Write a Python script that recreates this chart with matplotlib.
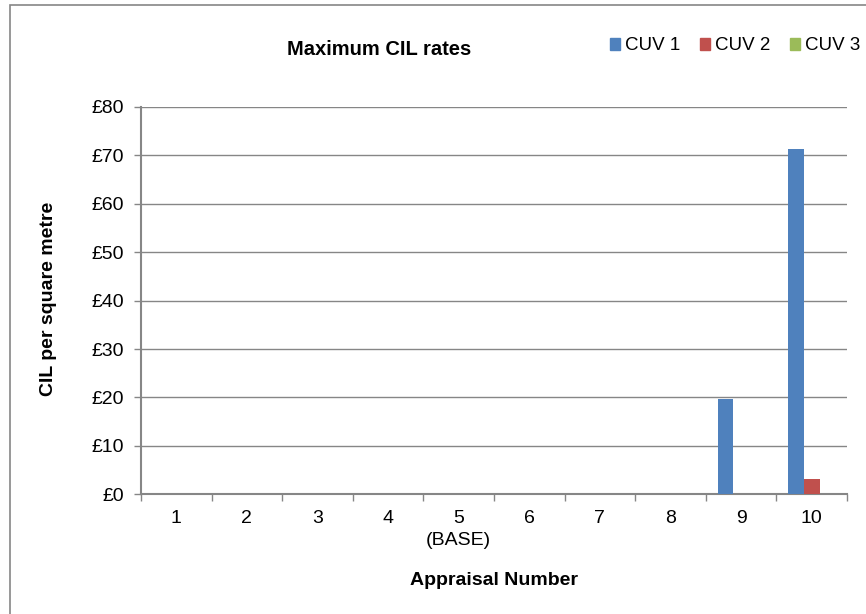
import matplotlib.pyplot as plt
import matplotlib.patches as mpatches
import numpy as np

plt.rcParams['font.family'] = ['Liberation Sans', 'DejaVu Sans']

appraisals = ["1", "2", "3", "4", "5\n(BASE)", "6", "7", "8", "9", "10"]
series = ["CUV 1", "CUV 2", "CUV 3"]
cuv1 = [0, 0, 0, 0, 0, 0, 0, 0, 19.6, 71.3]
cuv2 = [0, 0, 0, 0, 0, 0, 0, 0, 0, 3.2]
cuv3 = [0, 0, 0, 0, 0, 0, 0, 0, 0, 0]
colors = ["#4F81BD", "#C0504D", "#9BBB59"]
yticks = [0, 10, 20, 30, 40, 50, 60, 70, 80]

grey = "#868686"

fig = plt.figure(figsize=(8.66, 6.14), dpi=100)
ax = fig.add_axes([141 / 866, 1 - 494.3 / 614, 706 / 866, 387.3 / 614])

x = np.arange(len(appraisals))
w = 1 / 4.5
for i, (vals, c) in enumerate(zip([cuv1, cuv2, cuv3], colors)):
    ax.bar(x + (i - 1) * w, vals, width=w, color=c, zorder=3)

ax.set_xlim(-0.5, len(appraisals) - 0.5)
ax.set_ylim(0, 80)
ax.set_yticks(yticks)
ax.set_yticklabels(["£%d" % v for v in yticks])
ax.yaxis.grid(True, color=grey, linewidth=1)
ax.set_axisbelow(True)

ax.set_xticks(np.arange(-0.5, len(appraisals)), minor=False)
ax.set_xticklabels([])
ax.set_xticks(x, minor=True)
ax.set_xticklabels(appraisals, minor=True, linespacing=1.4)
ax.tick_params(axis="x", which="minor", length=0, pad=11.5, labelsize=14)
ax.tick_params(axis="x", which="major", length=5, color=grey, width=1)
ax.tick_params(axis="y", length=5, color=grey, width=1, pad=7.5, labelsize=14)

for s in ["top", "right"]:
    ax.spines[s].set_visible(False)
for s in ["left", "bottom"]:
    ax.spines[s].set_color(grey)
    ax.spines[s].set_linewidth(1.5)

fig.text(494 / 866, 1 - 585 / 614, "Appraisal Number", ha="center", va="baseline",
         fontsize=14, fontweight="bold")
fig.text(49 / 866, 1 - 298.5 / 614, "CIL per square metre", ha="center", va="center",
         rotation=90, fontsize=14, fontweight="bold")
fig.text(379.5 / 866, 1 - 55 / 614, "Maximum CIL rates", ha="center", va="baseline",
         fontsize=14.5, fontweight="bold")

handles = [mpatches.Patch(color=c, label=s) for c, s in zip(colors, series)]
fig.legend(handles=handles, loc="center left", bbox_to_anchor=(610 / 866, 1 - 46 / 614),
           ncol=3, frameon=False, fontsize=13.5, handlelength=0.55, handleheight=0.55,
           handletextpad=0.25, columnspacing=1.05, borderpad=0, borderaxespad=0)

fig.patches.append(mpatches.Rectangle((10 / 866, -0.1), 1.2, 1 - 5 / 614 + 0.1,
                                      transform=fig.transFigure, fill=False,
                                      edgecolor=grey, linewidth=1.2))

fig.savefig("out.png", dpi=100)
